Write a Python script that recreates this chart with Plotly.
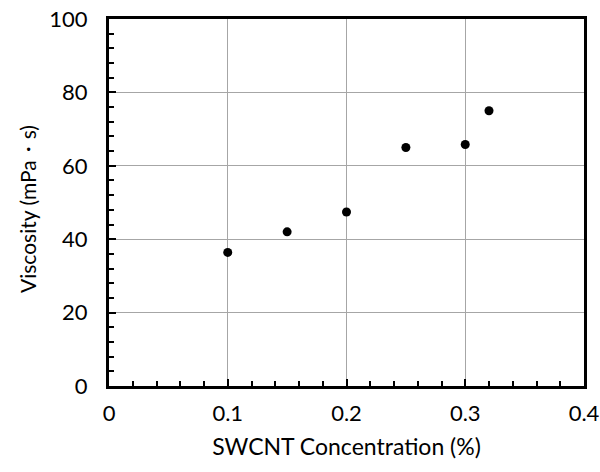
import plotly.graph_objects as go

concentration = [0.10, 0.15, 0.20, 0.25, 0.30, 0.32]
viscosity = [36.4, 42.0, 47.4, 65.0, 65.8, 75.0]

x_ticks = [0, 0.1, 0.2, 0.3, 0.4]
x_tick_text = ["0", "0.1", "0.2", "0.3", "0.4"]
y_ticks = [0, 20, 40, 60, 80, 100]

font_family = "Lato, Carlito, Calibri, sans-serif"

fig = go.Figure()
fig.add_trace(go.Scatter(
    x=concentration, y=viscosity, mode="markers",
    marker=dict(color="black", size=9),
    showlegend=False,
))

axis_common = dict(
    showline=True, linecolor="black", linewidth=3, mirror=True,
    ticks="inside", ticklen=7, tickwidth=2, tickcolor="black",
    showgrid=True, gridcolor="#a6a6a6", gridwidth=1,
    zeroline=False, automargin=False, ticklabeloverflow="allow",
    tickfont=dict(family=font_family, size=22, color="black"),
)

fig.update_xaxes(
    range=[0, 0.4], tickvals=x_ticks, ticktext=x_tick_text,
    ticklabelstandoff=6,
    minor=dict(dtick=0.02, ticks="inside", ticklen=5, tickwidth=2,
               tickcolor="black", showgrid=False),
    title=dict(text="SWCNT Concentration (%)",
               font=dict(family=font_family, size=23, color="black"),
               standoff=14),
    **axis_common,
)
fig.update_yaxes(
    range=[0, 100], tickvals=y_ticks,
    ticklabelstandoff=14,
    minor=dict(dtick=4, ticks="inside", ticklen=5, tickwidth=2,
               tickcolor="black", showgrid=False),
    **axis_common,
)

# y-axis title placed as annotation (reference title sits slightly below centre)
fig.add_annotation(
    text="Viscosity (mPa・s)", textangle=-90,
    xref="paper", yref="paper", x=(27 - 109) / 475, y=(386 - 209) / 367,
    xanchor="center", yanchor="middle", showarrow=False,
    font=dict(family=font_family, size=21, color="black"),
)

fig.update_layout(
    width=600, height=472,
    margin=dict(l=109, r=16, t=19, b=86),
    paper_bgcolor="white", plot_bgcolor="white",
    font=dict(family=font_family, color="black"),
)

fig.write_html(
    "out.html",
    config={"displayModeBar": False},
    post_script="document.body.style.margin='0';document.body.style.overflow='hidden';",
)
